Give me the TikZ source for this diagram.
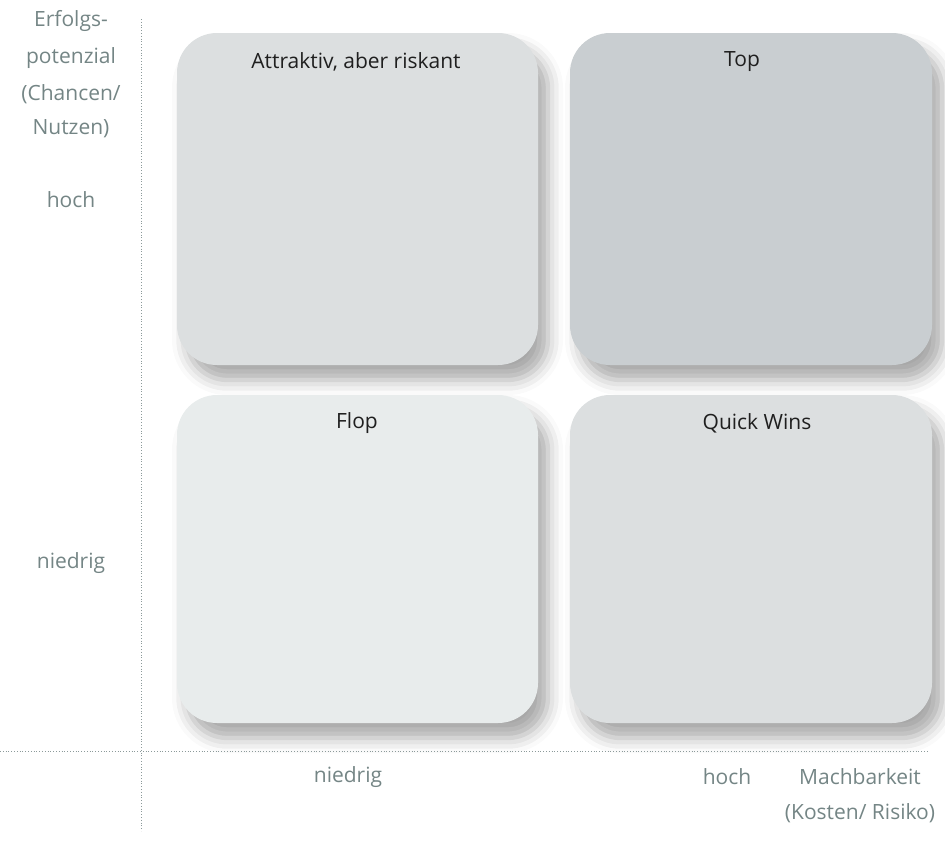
\documentclass[tikz,border=0pt]{standalone}
\usepackage{fontspec}
\setmainfont{Open Sans}
\usetikzlibrary{shadows.blur}
\definecolor{axistext}{HTML}{748585}
\definecolor{axisline}{HTML}{8C9A9A}
\definecolor{cTL}{HTML}{DCDFE0}
\definecolor{cTR}{HTML}{C9CED1}
\definecolor{cBL}{HTML}{E8ECEC}
\definecolor{cBR}{HTML}{DCDFE0}
\tikzset{
  quad/.style={draw=none, rounded corners=40pt,
    blur shadow={shadow xshift=10pt, shadow yshift=-15pt, shadow blur radius=15pt, shadow opacity=34}},
  quadtitle/.style={font=\fontsize{21}{24}\selectfont, text=black!88, anchor=center},
  axlabel/.style={font=\fontsize{21}{24}\selectfont, text=axistext, anchor=center},
  axisrule/.style={draw=axisline, line width=0.8pt, dotted}
}
\begin{document}
\begin{tikzpicture}[x=1pt,y=-1pt]
\useasboundingbox (0,0) rectangle (945,854);
% quadrants
\fill[quad, fill=cTL] (177,33) rectangle (538,365);
\fill[quad, fill=cTR] (570,33) rectangle (932,365);
\fill[quad, fill=cBL] (177,395) rectangle (538,723);
\fill[quad, fill=cBR] (570,395) rectangle (932,723);
\node[quadtitle] (tTL) at (356,62) {Attraktiv, aber riskant};
\node[quadtitle] (tTR) at (742,62) {Top};
\node[quadtitle] (tBL) at (357,423) {Flop};
\node[quadtitle] (tBR) at (757,423) {Quick Wins};
% axes
\coordinate (vtop) at (141,19);
\coordinate (vbot) at (141,831);
\coordinate (hleft) at (0,751);
\coordinate (hright) at (928,751);
\draw[axisrule] (vtop) -- (vbot);
\draw[axisrule] (hleft) -- (hright);
% y axis labels
\node[axlabel] (y1) at (71,21) {Erfolgs-};
\node[axlabel] (y2) at (71,58) {potenzial};
\node[axlabel] (y3) at (71,94) {(Chancen/};
\node[axlabel] (y4) at (71,129) {Nutzen)};
\node[axlabel] (yh) at (71,200) {hoch};
\node[axlabel] (yn) at (71,563) {niedrig};
% x axis labels
\node[axlabel] (xn) at (348,777) {niedrig};
\node[axlabel] (xh) at (727,777) {hoch};
\node[axlabel] (xm) at (860,777) {Machbarkeit};
\node[axlabel] (xk) at (860,813) {(Kosten/ Risiko)};
\end{tikzpicture}
\end{document}
